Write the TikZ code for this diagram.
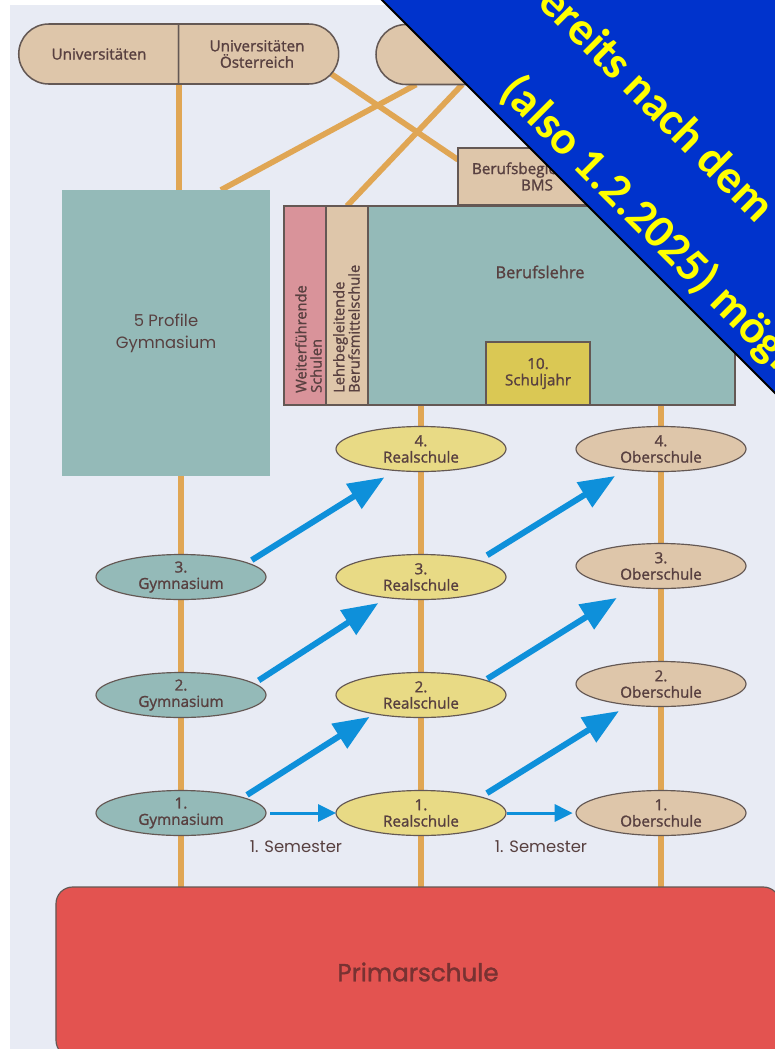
\documentclass[tikz,border=0pt]{standalone}
\usepackage{fontspec}
\setmainfont{Open Sans}[FakeBold=1.3]
\newfontfamily\roundfont{Poppins}
\newfontfamily\roundbold{Poppins}[FakeBold=1.6]
\newfontfamily\bannerfont{Carlito}
\newcommand*{\smallfont}{\fontsize{13}{14}\selectfont}
\newcommand*{\bigfont}{\roundbold\fontsize{21}{24}\selectfont}
\definecolor{paper}{RGB}{232,235,244}
\definecolor{sand}{RGB}{222,198,170}
\definecolor{sea}{RGB}{148,186,184}
\definecolor{lemon}{RGB}{232,218,133}
\definecolor{mustard}{RGB}{218,200,84}
\definecolor{rose}{RGB}{217,147,154}
\definecolor{brick}{RGB}{227,83,80}
\definecolor{primink}{RGB}{120,50,50}
\definecolor{track}{RGB}{224,166,84}
\definecolor{sky}{RGB}{14,144,218}
\definecolor{ink}{RGB}{88,64,64}
\definecolor{edge}{RGB}{100,88,84}
\definecolor{banner}{RGB}{0,51,204}
\definecolor{bannerink}{RGB}{255,255,0}
\usepackage{tikz}
\usetikzlibrary{arrows.meta}
\usetikzlibrary{positioning}
\usetikzlibrary{shapes.geometric}
\usetikzlibrary{shapes.misc}
\pgfdeclarelayer{paper}
\pgfdeclarelayer{tracks}
\pgfsetlayers{paper,tracks,main}
\tikzstyle{base}=[inner sep=0pt, outer sep=0pt, x=0.3mm, y=-0.3mm]
\tikzstyle{txt}=[text=ink, font=\smallfont, align=center]
\tikzstyle{pill}=[txt, rounded rectangle, draw=edge, line width=1.3pt, fill=sand, minimum height=18mm]
\tikzstyle{block}=[txt, rectangle, draw=edge, line width=1pt]
\tikzstyle{oval}=[txt, ellipse, draw=edge, line width=1pt, minimum width=51mm, minimum height=13.5mm]
\tikzstyle{gymbox}=[rectangle, fill=sea, text=ink, font=\roundfont\fontsize{14}{19}\selectfont, align=center]
\tikzstyle{primbox}=[rectangle, draw=edge, line width=1pt, fill=brick, rounded corners=5mm, text=primink, font=\bigfont]
\tikzstyle{vtext}=[text=ink, font=\fontsize{12.5}{13}\selectfont, align=left, rotate=90, inner sep=1pt]
\tikzstyle{rail}=[draw=track, line width=1.7mm]
\tikzstyle{jump}=[draw=sky, line width=1.8mm, -{Triangle[length=10.8mm, width=8.4mm]}]
\tikzstyle{hop}=[draw=sky, line width=0.9mm, -{Triangle[length=5.4mm, width=5.1mm]}]
\tikzstyle{semester}=[text=ink, font=\roundfont\fontsize{14}{16}\selectfont, yshift=-10mm]
\tikzstyle{bannertxt}=[text=bannerink, font=\bannerfont\bfseries\fontsize{40}{42}\selectfont, rotate=-45]

\begin{document}
\begin{tikzpicture}[base]
    \useasboundingbox (0,0) rectangle (775,1049);
    \clip (0,0) rectangle (775,1049);
    \begin{pgfonlayer}{paper}
        \fill[paper] (10,5) rectangle (775,1049);
    \end{pgfonlayer}

    % Hochschulen oben
    \node[pill, rounded rectangle right arc=none, minimum width=48mm] (uni) at (99,54) {Universitäten};
    \node[pill, rounded rectangle left arc=none, minimum width=48mm, right=0pt of uni] (unioe) {Universitäten\\Österreich};
    \node[pill, minimum width=96.3mm] (hoch) at (536.5,54.5) {};

    % Sekundarstufe II
    \node[gymbox, minimum width=62.4mm, minimum height=85.8mm] (gym) at (166,333) {5 Profile\\Gymnasium};
    \node[block, fill=sand, minimum width=47.4mm, minimum height=17.1mm] (bms) at (537,176.5) {Berufsbegleitende\\BMS};
    \node[block, fill=rose, minimum width=12.6mm, minimum height=59.7mm] (wfs) at (305,305.5) {};
    \node[block, fill=sand, minimum width=12.6mm, minimum height=59.7mm, right=0pt of wfs] (lbms) {};
    \node[block, fill=sea, minimum width=110.1mm, minimum height=59.7mm, right=0pt of lbms] (lehre) {};
    \node[txt, font=\fontsize{14}{16}\selectfont] (lehretxt) at (540,272) {Berufslehre};
    \node[block, fill=mustard, minimum width=31.2mm, minimum height=18.9mm] (jahr10) at (538,373.5) {10.\\Schuljahr};
    \node[vtext, anchor=north west] (wfstxt) at ([shift={(10,-11)}]wfs.south west) {Weiterführende\\Schulen};
    \node[vtext, anchor=north west] (lbmstxt) at ([shift={(6,-11)}]lbms.south west) {Lehrbegleitende\\Berufsmittelschule};

    % Sekundarstufe I
    \node[oval, fill=sea] (gym3) at (181,577) {3.\\Gymnasium};
    \node[oval, fill=sea] (gym2) at (181,695) {2.\\Gymnasium};
    \node[oval, fill=sea] (gym1) at (181,813) {1.\\Gymnasium};
    \node[oval, fill=lemon] (real4) at (421,449) {4.\\Realschule};
    \node[oval, fill=lemon] (real3) at (421,577) {3.\\Realschule};
    \node[oval, fill=lemon] (real2) at (421,695) {2.\\Realschule};
    \node[oval, fill=lemon] (real1) at (421,813) {1.\\Realschule};
    \node[oval, fill=sand] (ober4) at (661,449) {4.\\Oberschule};
    \node[oval, fill=sand] (ober3) at (661,566) {3.\\Oberschule};
    \node[oval, fill=sand] (ober2) at (661,684) {2.\\Oberschule};
    \node[oval, fill=sand] (ober1) at (661,813) {1.\\Oberschule};

    \node[primbox, minimum width=217.2mm, minimum height=51mm] (primar) at (418,972) {Primarschule};

    % Verbindungen
    \begin{pgfonlayer}{tracks}
        \draw[rail] (uni.south east) -- (uni.south east |- gym.north);
        \draw[rail] (unioe.-15) -- (bms.168);
        \draw[rail] (hoch.194) -- (gym.69);
        \draw[rail] (hoch.202) -- (lbms.north);
        \draw[rail] (gym3 |- gym.south) -- (gym3 |- primar.north);
        \draw[rail] (real4 |- lehre.south) -- (real4 |- primar.north);
        \draw[rail] (ober4 |- lehre.south) -- (ober4 |- primar.north);
    \end{pgfonlayer}

    % Uebertritte
    \draw[jump, shorten <=1.6mm, shorten >=3.9mm] (gym3.12) -- (real4.220);
    \draw[jump, shorten <=1.7mm, shorten >=3mm] (gym2.9) -- (real3.211);
    \draw[jump, shorten <=1.5mm, shorten >=1.7mm] (gym1.14) -- (real2.202);
    \draw[jump, shorten <=3mm, shorten >=3.7mm] (real3.16) -- (ober4.210);
    \draw[jump, shorten <=0.8mm, shorten >=6mm] (real2.13) -- (ober3.218);
    \draw[jump, shorten <=2.2mm, shorten >=3.5mm] (real1.15) -- (ober2.213);
    \draw[hop, shorten <=1.2mm] (gym1.east) -- node[semester, xshift=-1.5mm] (sem1) {1. Semester} (real1.west);
    \draw[hop, shorten <=0.3mm, shorten >=1mm] (real1.east) -- node[semester] (sem2) {1. Semester} (ober1.west);

    % Hinweis
    \fill[banner] (372,-10) -- (840,458) -- (840,-10) -- cycle;
    \draw[black, line width=0.6mm] (372,-10) -- (840,458);
    \node[bannertxt, anchor=west] (ban1) at (530,-25) {bereits nach dem};
    \node[bannertxt, anchor=west] (ban2) at (508,84) {(also 1.2.2025) möglich};
\end{tikzpicture}
\end{document}
